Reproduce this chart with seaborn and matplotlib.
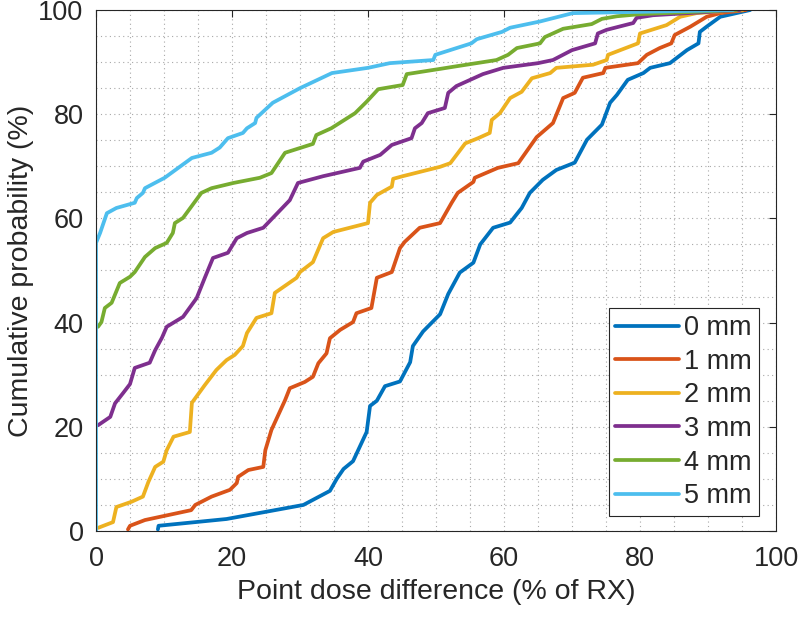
import matplotlib
matplotlib.use('Agg')
import matplotlib.pyplot as plt
from matplotlib.ticker import MultipleLocator
import pandas as pd
import seaborn as sns

# Series labels and MATLAB default line colours
labels = ['0 mm', '1 mm', '2 mm', '3 mm', '4 mm', '5 mm']
colors = ['#0072BD', '#D95319', '#EDB120', '#7E2F8E', '#77AC30', '#4DBEEE']

# Curves (x: % of RX, y: cumulative %)
x0 = [9.1, 9.2, 19.2, 30.5, 34.4, 35.4, 36.4, 37.8, 39.8, 40.3, 41.3, 42.5, 44.7, 46.2, 46.6, 48.1, 50.6, 51.8,
      53.5, 55.5, 56.5, 58.4, 60.9, 62.6, 63.8, 65.7, 67.7, 70.4, 72.2, 74.4, 75.6, 76.6, 78.2, 80.5, 81.5, 84.4,
      86.9, 88.6, 88.8, 89.8, 91.8, 96.2]
y0 = [0.3, 1.0, 2.3, 5.0, 7.7, 10.0, 11.9, 13.4, 19.0, 24.0, 25.0, 27.8, 28.7, 32.4, 35.5, 38.3, 41.6, 45.5,
      49.6, 51.5, 55.0, 58.2, 59.2, 62.0, 64.9, 67.4, 69.3, 70.7, 75.1, 78.0, 82.2, 83.7, 86.6, 87.9, 88.9, 89.8,
      92.3, 93.6, 95.8, 96.8, 98.7, 100]

x1 = [4.7, 5.0, 7.2, 14.0, 14.6, 17.0, 19.7, 20.7, 20.9, 22.4, 24.6, 24.9, 25.8, 27.8, 28.5, 30.7, 31.9, 32.7,
      33.9, 34.4, 35.9, 37.8, 38.3, 40.5, 41.3, 43.5, 44.7, 45.4, 47.6, 50.6, 52.3, 53.2, 55.5, 55.7, 59.1, 62.1,
      64.8, 67.2, 68.7, 70.4, 71.6, 74.6, 74.9, 79.7, 81.0, 82.9, 84.6, 85.1, 87.4, 89.8, 91.8, 95.6]
y1 = [0.3, 1.0, 2.1, 4.0, 5.0, 6.6, 7.9, 9.2, 10.4, 11.7, 12.3, 15.5, 19.4, 25.1, 27.4, 28.6, 29.6, 32.2,
      34.1, 37.0, 38.6, 40.1, 41.8, 42.8, 48.6, 49.7, 54.3, 55.5, 58.2, 59.1, 63.0, 64.9, 67.0, 67.8, 69.7, 70.6,
      75.6, 78.3, 83.1, 84.1, 87.0, 87.9, 88.9, 89.8, 91.4, 92.7, 93.6, 95.2, 96.8, 98.7, 99.4, 100]

x2 = [0.3, 2.5, 3.0, 5.2, 6.9, 7.7, 8.7, 9.9, 10.4, 11.4, 13.8, 14.1, 16.0, 17.7, 19.2, 20.4, 21.6, 22.2,
      23.6, 25.8, 26.3, 29.5, 30.0, 31.9, 33.4, 34.9, 40.0, 40.3, 41.3, 43.5, 43.7, 45.1, 50.6, 52.1, 54.3, 56.2,
      57.9, 58.2, 59.4, 60.9, 62.6, 64.1, 66.8, 67.7, 73.1, 75.1, 75.3, 79.7, 80.0, 83.9, 85.9, 88.3, 95.1]
y2 = [0.6, 1.7, 4.6, 5.6, 6.6, 9.4, 12.3, 13.3, 15.5, 18.1, 19.0, 24.6, 28.0, 30.9, 32.8, 33.8, 35.5, 38.0,
      40.9, 41.8, 45.7, 48.6, 49.7, 51.6, 56.2, 57.4, 59.1, 63.0, 64.5, 66.1, 67.6, 68.1, 69.9, 70.6, 74.4, 75.4,
      76.4, 78.9, 80.2, 83.1, 84.3, 86.9, 87.9, 88.9, 89.5, 90.4, 91.4, 93.6, 95.5, 97.1, 98.7, 99.4, 100]

x3 = [0.3, 2.1, 2.8, 4.0, 5.0, 5.7, 7.9, 8.7, 9.7, 10.4, 12.8, 14.8, 16.0, 17.2, 19.4, 20.7, 22.2, 24.6,
      28.5, 29.7, 33.4, 38.8, 39.3, 41.8, 43.5, 46.4, 46.9, 47.9, 48.8, 51.3, 51.8, 53.0, 56.9, 59.9, 65.0, 67.2,
      70.0, 73.4, 73.8, 75.1, 79.0, 79.5, 81.9, 94.7]
y3 = [20.3, 21.9, 24.5, 26.5, 28.2, 31.3, 32.3, 34.7, 37.1, 39.2, 41.1, 44.7, 48.6, 52.4, 53.4, 56.2, 57.2, 58.2,
      63.5, 66.8, 68.1, 69.7, 70.9, 72.2, 74.1, 75.4, 77.3, 78.3, 80.2, 81.2, 84.1, 85.4, 87.7, 88.9, 89.8, 90.4,
      92.3, 93.6, 95.5, 96.2, 97.5, 98.5, 99.0, 100]

x4 = [0.3, 0.8, 1.3, 2.3, 3.5, 5.0, 5.7, 7.2, 8.7, 10.4, 11.3, 11.6, 12.8, 15.5, 17.0, 20.2, 24.1, 25.8,
      27.8, 31.9, 32.4, 34.6, 38.1, 39.8, 41.5, 45.1, 45.7, 50.6, 53.0, 58.9, 60.6, 61.9, 65.3, 66.0, 68.7, 72.9,
      74.4, 76.6, 80.0, 94.2]
y4 = [39.2, 40.1, 42.8, 43.8, 47.6, 48.8, 49.7, 52.6, 54.3, 55.3, 57.2, 59.1, 60.1, 64.9, 65.8, 66.8, 67.8, 68.7,
      72.6, 74.3, 76.0, 77.3, 80.2, 82.4, 84.8, 85.6, 87.7, 88.7, 89.2, 90.4, 91.4, 92.7, 93.6, 94.8, 96.4, 97.3,
      98.3, 98.8, 99.2, 100]

x5 = [0, 0, 0.6, 1.6, 3.0, 5.7, 6.0, 6.9, 7.2, 10.1, 14.1, 17.0, 18.2, 19.4, 21.6, 22.2, 23.4, 23.6,
      26.0, 30.0, 34.7, 40.0, 43.2, 49.6, 49.9, 55.2, 56.0, 59.7, 60.9, 65.3, 70.1, 93.7]
y5 = [0, 55.3, 57.2, 61.0, 62.0, 63.0, 63.9, 64.9, 65.8, 67.8, 71.6, 72.6, 73.6, 75.4, 76.4, 77.3, 78.3, 79.3,
      82.2, 85.0, 87.9, 88.9, 89.8, 90.4, 91.4, 93.6, 94.4, 95.8, 96.6, 97.8, 99.4, 100]

xs = [x0, x1, x2, x3, x4, x5]
ys = [y0, y1, y2, y3, y4, y5]

# Long-form table for seaborn
frames = []
for lab, x, y in zip(labels, xs, ys):
    frames.append(pd.DataFrame({'x': x, 'y': y, 'series': lab}))
df = pd.concat(frames, ignore_index=True)

sns.set_style('white')
plt.rcParams['font.family'] = ['Liberation Sans', 'DejaVu Sans']
text_color = '#262626'

fig = plt.figure(figsize=(8, 6.18), dpi=100)
ax = fig.add_axes([0.12, 0.1408, 0.85, 0.843])

sns.lineplot(data=df, x='x', y='y', hue='series', hue_order=labels,
             palette=dict(zip(labels, colors)), sort=False, estimator=None,
             linewidth=2.7, ax=ax)

ax.set_xlim(0, 100)
ax.set_ylim(0, 100)
ax.xaxis.set_major_locator(MultipleLocator(20))
ax.yaxis.set_major_locator(MultipleLocator(20))
ax.xaxis.set_minor_locator(MultipleLocator(5))
ax.yaxis.set_minor_locator(MultipleLocator(5))
ax.grid(which='both', linestyle=(0, (1, 3)), color='#a8a8a8', linewidth=0.8)
ax.set_axisbelow(True)

ax.tick_params(which='major', direction='in', length=5, width=0.8, top=True, right=True,
               labelsize=19.5, colors=text_color)
ax.tick_params(axis='x', which='major', pad=11)
ax.tick_params(axis='y', which='major', pad=9)
ax.tick_params(which='minor', length=0)
for s in ax.spines.values():
    s.set_color(text_color)
    s.set_linewidth(0.8)
    s.set_visible(True)

ax.set_xlabel('Point dose difference (% of RX)', fontsize=20.5, color=text_color, labelpad=5)
ax.set_ylabel('Cumulative probability (%)', fontsize=20.5, color=text_color, labelpad=3)

leg = ax.legend(loc='lower right', bbox_to_anchor=(0.975, 0.029), fontsize=19.5,
                frameon=True, fancybox=False, framealpha=1, edgecolor=text_color,
                handlelength=2.35, handletextpad=0.2, labelspacing=0.28,
                borderpad=0.25, borderaxespad=0)
leg.get_frame().set_linewidth(0.8)
for line in leg.get_lines():
    line.set_linewidth(2.7)

fig.savefig('out.png', dpi=100)
plt.close(fig)
